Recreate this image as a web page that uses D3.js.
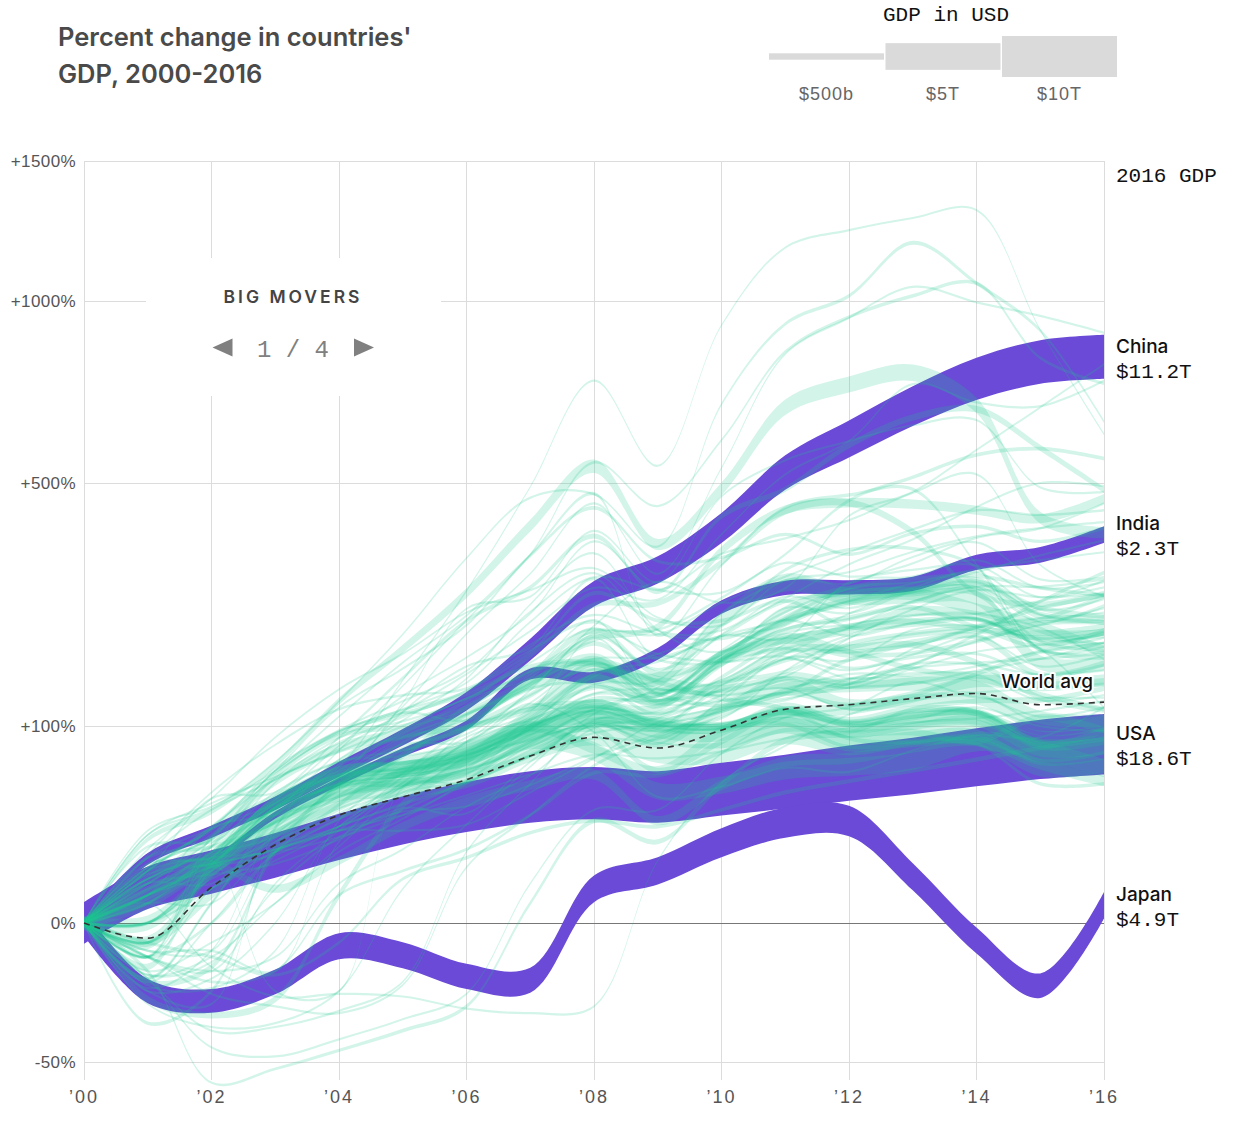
<!DOCTYPE html>
<html><head><meta charset="utf-8">
<script src="https://cdn.jsdelivr.net/npm/d3@7"></script>
<style>
body{margin:0;background:#fff;}
svg{display:block;}
</style></head><body>
<svg id="chart" width="1240" height="1132"></svg>
<script>
// ---------- DATA ----------
const years = [2000,2001,2002,2003,2004,2005,2006,2007,2008,2009,2010,2011,2012,2013,2014,2015,2016];
const xTickYears = [2000,2002,2004,2006,2008,2010,2012,2014,2016];
const xTickLabels = ["\u201900","\u201902","\u201904","\u201906","\u201908","\u201910","\u201912","\u201914","\u201916"];
const yTickValues = [1500,1000,500,100,0,-50];
const yTickLabels = ["+1500%","+1000%","+500%","+100%","0%","-50%"];

const legendValues = [500,5000,10000]; // $B
const legendLabels = ["$500b","$5T","$10T"];

// Highlighted "big movers" (percent change vs 2000), GDP in 2000 in $B
const moverNames = ["USA","China","Japan","India"];
const moverValueLabels = ["$18.6T","$11.2T","$4.9T","$2.3T"];
const moverGdp2000 = [10250,1211,4888,468];
const moverChanges = [
  [0,3.2,6.7,11.8,19.1,27.2,34.7,41,43.5,41,46.2,51.6,58,63.7,70.9,77.8,82.5],
  [0,10.6,21.5,37,61,89,127,193,280,322,403,524,605,690,765,813,828],
  [0,-12,-15.7,-9,-1.4,-2.7,-7.4,-8.5,3,7,16.6,26,26.8,5.5,-0.8,-10.2,0.8],
  [0,3.6,10,30,51.5,75,101,160,156,187,258,290,291,297,336,350,390]
];

const worldAvg = [0,-0.6,3.3,15.8,30,41,53,72,89,79,96,118,123,130,136,123,126];

// Other countries
const countryNames = ["Germany","United Kingdom","France","Italy","Brazil","Canada","Russia","South Korea","Australia","Mexico",
 "Spain","Indonesia","Turkey","Netherlands","Saudi Arabia","Switzerland","Argentina","Sweden","Poland","Belgium",
 "Norway","Austria","Iran","Nigeria","UAE","Thailand","Egypt","South Africa","Israel","Hong Kong",
 "Singapore","Malaysia","Philippines","Colombia","Chile","Pakistan","Bangladesh","Vietnam","Peru","Czech Republic",
 "Romania","Hungary","Greece","Portugal","Ireland","Denmark","Finland","New Zealand","Kuwait","Algeria",
 "Morocco","Kazakhstan","Azerbaijan","Qatar","Ukraine","Ecuador","Ethiopia","Ghana","Mongolia","Belarus",
 "Uzbekistan","Kenya","Sri Lanka","Dominican Republic","Uruguay","Paraguay","Bolivia","Costa Rica","Guatemala","Tunisia",
 "Jordan","Lebanon","Oman","Croatia","Slovakia","Slovenia","Bulgaria","Lithuania","Latvia","Estonia",
 "Cameroon","Cote d'Ivoire","Zambia","Zimbabwe","Mozambique","Tanzania","Uganda","Panama","Luxembourg","Iceland",
 "El Salvador","Honduras","Trinidad and Tobago"];
const countryGdp2000 = [1950,1658,1362,1142,655,742,260,562,415,708,
 598,165,273,418,190,272,284,262,172,236,
 171,197,110,69,104,126,100,136,132,172,
 96,94,81,100,78,74,53,31,52,62,
 37,47,130,118,100,164,125,52,38,55,
 39,18,5.3,17.8,31,18,8.2,5,1.1,12.7,
 13.8,12.7,16.3,24,22.8,8.8,8.4,15,19.3,21.5,
 8.5,17.3,19.9,21.8,29,20.3,13.2,11.5,7.9,5.7,
 10,10.7,3.6,6.7,5,13.4,6.2,11.6,21,9,
 11.8,7.1,8.2];
const countryChanges = [
 [0,0,7,28,44,47,54,76,92,75,75,93,82,92,99,73,78],
 [0,-1,7,24,46,53,64,87,76,45,49,60,63,68,85,77,62],
 [0,1,10,35,55,61,70,95,114,97,94,110,97,106,109,79,81],
 [0,2,11,37,58,62,70,94,109,91,86,101,83,87,89,61,64],
 [0,-15,-22,-15,2,36,69,113,159,154,237,299,276,278,275,175,174],
 [0,-1,2,20,38,58,77,97,109,85,118,141,146,148,143,109,106],
 [0,18,32,65,127,194,281,408,539,370,487,687,749,782,692,424,393],
 [0,-5,8,21,36,60,80,100,78,60,95,114,118,132,151,146,152],
 [0,-9,-5,13,48,67,80,106,154,124,176,236,273,280,254,226,191],
 [0,7,9,3,10,24,38,49,57,27,49,67,70,80,86,65,52],
 [0,5,19,52,79,93,112,147,172,150,139,149,123,128,130,100,106],
 [0,-3,19,42,56,73,121,162,209,227,358,441,456,453,440,422,465],
 [0,-26,-12,15,49,85,104,149,182,138,185,207,222,251,244,216,216],
 [0,3,12,39,57,64,76,103,124,105,100,114,98,107,111,81,86],
 [0,-3,0,13,36,73,98,119,174,126,178,253,287,293,298,244,239],
 [0,2,10,27,43,50,57,73,104,105,119,157,146,151,159,146,150],
 [0,-6,-66,-55,-42,-30,-18,1,27,17,49,86,92,94,85,109,96],
 [0,-8,1,27,48,50,60,83,97,60,85,117,106,118,114,82,96],
 [0,11,15,26,49,77,99,157,221,160,181,206,186,203,212,159,174],
 [0,0,8,34,55,61,71,97,119,102,100,118,102,111,114,88,96],
 [0,1,13,34,51,78,99,134,180,127,150,192,196,200,175,131,117],
 [0,1,9,34,54,60,70,98,118,99,96,115,102,111,114,93,98],
 [0,15,17,37,64,93,127,184,261,264,336,438,456,395,281,262,280],
 [0,7,40,44,89,155,236,291,387,283,427,486,589,660,682,583,484],
 [0,0,6,19,42,71,112,147,202,152,188,237,264,285,300,256,243],
 [0,-9,0,13,28,50,76,112,156,134,179,196,227,235,223,217,227],
 [0,-3,-13,-18,-21,-10,8,30,64,89,119,136,179,188,205,232,233],
 [0,-12,-17,23,68,89,99,118,121,118,175,213,190,167,154,135,118],
 [0,-3,-9,-6,2,7,14,30,58,56,75,96,94,118,127,128,142],
 [0,-1,-3,-7,-1,5,11,21,27,24,33,44,52,60,69,79,87],
 [0,-7,-4,3,19,33,53,87,100,98,144,178,196,214,220,210,221],
 [0,-1,7,17,33,53,67,98,145,113,156,207,224,236,238,208,217],
 [0,-6,-1,1,13,28,52,85,113,110,148,163,201,217,228,238,276],
 [0,-2,-2,-6,17,46,62,107,143,133,187,235,270,280,280,193,182],
 [0,-10,-11,-2,27,58,97,121,126,122,180,222,241,257,226,197,221],
 [0,-2,-2,13,31,48,84,107,128,128,140,189,190,200,226,256,277],
 [0,0,3,13,22,32,35,49,71,92,115,138,148,172,215,267,317],
 [0,5,13,26,45,84,112,150,216,222,273,351,461,513,566,581,557],
 [0,0,5,13,28,42,71,97,135,133,187,240,290,306,311,290,277],
 [0,11,33,53,84,110,139,189,281,236,236,268,226,229,238,203,216],
 [0,9,22,60,120,167,229,348,445,338,345,390,351,392,406,376,403],
 [0,12,44,82,118,134,142,192,234,179,175,195,168,182,187,159,172],
 [0,4,16,55,90,100,120,165,173,150,130,118,88,84,83,50,50],
 [0,3,13,40,62,66,73,100,122,105,100,102,80,85,87,68,75],
 [0,7,24,59,94,113,135,170,174,135,122,136,123,134,160,190,199],
 [0,-1,7,30,48,57,68,90,115,96,96,107,95,102,104,84,90],
 [0,2,9,31,50,56,64,92,127,101,99,123,105,116,115,86,91],
 [0,-3,10,51,88,114,106,142,148,127,178,223,238,266,291,235,260],
 [0,-8,1,30,55,115,170,196,306,182,229,322,360,362,327,194,190],
 [0,-1,3,23,55,89,113,144,213,166,213,267,278,282,290,205,192],
 [0,2,10,34,52,59,75,101,136,141,138,156,147,173,173,159,165],
 [0,20,34,67,127,215,344,467,475,366,695,927,1016,1195,1058,907,650],
 [0,8,18,36,63,152,285,491,760,540,923,1178,1240,1284,1313,909,618],
 [0,0,9,32,77,145,237,351,548,449,602,843,949,1016,1057,825,752],
 [0,22,35,60,110,175,244,350,476,213,330,445,473,486,332,192,197],
 [0,20,37,55,76,100,130,155,220,215,265,310,355,400,440,430,440],
 [0,-3,-6,4,22,51,85,140,228,300,265,289,428,480,578,687,806],
 [0,7,24,53,78,115,160,220,290,270,390,520,600,750,700,690,760],
 [0,11,23,37,65,121,216,315,455,315,535,836,946,1045,995,952,900],
 [0,-3,15,39,81,133,182,247,376,288,352,382,419,478,520,331,276],
 [0,-17,-28,-26,-12,3,25,63,113,143,215,272,332,380,447,500,493],
 [0,1,1,17,29,48,97,148,180,182,211,230,297,334,383,402,455],
 [0,-3,3,15,24,48,73,97,147,152,247,303,318,356,386,403,415],
 [0,5,10,-12,-12,47,51,72,88,87,117,130,143,148,164,180,203],
 [0,-8,-40,-46,-35,-24,-13,4,33,33,74,109,120,150,131,131,131],
 [0,-8,-30,-28,-20,-9,13,50,102,83,128,181,178,222,228,208,202],
 [0,-3,-6,-3,4,14,35,56,98,108,134,187,225,267,292,292,305],
 [0,7,11,13,19,30,50,77,100,100,146,180,214,243,247,268,291],
 [0,2,23,30,41,57,73,86,103,95,110,142,154,174,205,229,256],
 [0,2,7,30,50,55,61,80,108,101,103,113,102,107,120,100,95],
 [0,5,12,19,34,48,75,105,157,187,213,237,268,298,323,340,355],
 [0,2,8,14,22,22,25,44,70,104,119,128,153,168,175,180,187],
 [0,-1,3,10,24,55,89,115,210,136,192,250,288,300,307,246,232],
 [0,7,23,58,92,105,130,175,223,187,176,183,155,161,159,128,134],
 [0,4,18,60,95,117,139,200,245,216,208,237,213,232,240,200,210],
 [0,2,15,44,67,72,85,125,174,142,134,142,118,128,133,110,120],
 [0,8,19,57,94,118,149,234,309,286,282,335,310,322,330,274,303],
 [0,8,23,62,96,127,164,250,316,221,221,275,256,290,317,254,271],
 [0,4,15,34,69,106,154,262,353,222,190,256,248,283,300,245,249],
 [0,14,40,89,141,187,249,286,325,241,229,303,298,346,374,305,309],
 [0,2,11,37,57,61,70,95,131,123,128,152,143,167,190,200,215],
 [0,1,11,34,48,53,60,84,117,113,127,137,147,194,225,240,236],
 [0,4,4,20,51,125,255,275,397,300,470,553,600,640,653,490,480],
 [0,1,-5,-14,-13,-14,-19,-21,-18,10,51,81,112,131,137,143,148],
 [0,-12,-8,0,24,44,52,72,104,100,108,164,210,232,238,194,120],
 [0,4,6,9,18,34,31,67,106,115,140,157,209,254,286,274,280],
 [0,-7,-3,1,15,44,57,101,161,176,213,210,300,310,340,290,300],
 [0,3,8,12,24,36,51,82,118,138,152,201,247,286,318,349,378],
 [0,0,10,42,67,77,92,134,166,140,150,180,165,186,212,170,186],
 [0,-11,-2,24,54,82,85,124,94,41,48,62,59,77,91,89,120],
 [0,5,9,14,22,30,42,57,73,70,76,88,98,104,108,116,127],
 [0,6,9,14,24,37,51,73,93,102,115,140,160,158,170,190,203],
 [0,9,11,35,60,96,131,163,237,137,171,217,230,245,247,225,180]
];

// ---------- CHART ----------
const svg = d3.select("#chart");
const PURPLE = "#6a4ad6";
const GREEN = "#1fc98f";
const CURVE = d3.curveCatmullRom.alpha(0.5);

const x = d3.scaleLinear().domain([2000,2016]).range([84,1104]);
const y = d3.scaleSqrt().domain([-50,1500]).range([1062,161]);
const w = d3.scalePow().exponent(0.62).domain([0,10000]).range([0,41]);

// Title
const title = svg.append("text")
  .attr("font-family","Inter, Lato, sans-serif").attr("font-weight",600)
  .attr("font-size",25.5).attr("fill","#4a4a4a");
title.append("tspan").attr("x",58).attr("y",46).text("Percent change in countries'");
title.append("tspan").attr("x",58).attr("y",83).text("GDP, 2000-2016");

// Legend
svg.append("text").attr("x",946).attr("y",21).attr("text-anchor","middle")
  .attr("font-family","'Liberation Mono', 'DejaVu Sans Mono', monospace").attr("font-size",21)
  .attr("fill","#111").text("GDP in USD");
const lg = svg.append("g");
lg.selectAll("rect").data(legendValues).join("rect")
  .attr("x",(d,i)=>769 + i*116.5).attr("width",115)
  .attr("y",d=>56.5 - w(d)/2).attr("height",d=>w(d))
  .attr("fill","#dadada");
lg.selectAll("text").data(legendLabels).join("text")
  .attr("x",(d,i)=>826.5 + i*116.5).attr("y",100).attr("text-anchor","middle")
  .attr("font-family","'Liberation Sans', Arial, sans-serif").attr("font-size",18)
  .attr("letter-spacing",1).attr("fill","#666").text(d=>d);

// Grid
const grid = svg.append("g");
grid.selectAll("line.vg").data(xTickYears).join("line").attr("class","vg")
  .attr("x1",d=>x(d)).attr("x2",d=>x(d)).attr("y1",y(1500)).attr("y2",1080)
  .attr("stroke","#dcdcdc").attr("stroke-width",1).attr("shape-rendering","crispEdges");
grid.selectAll("line.hg").data(yTickValues).join("line").attr("class","hg")
  .attr("x1",x(2000)).attr("x2",x(2016)).attr("y1",d=>Math.round(y(d))+0.5).attr("y2",d=>Math.round(y(d))+0.5)
  .attr("stroke",d=>d===0?"#777":"#dcdcdc").attr("stroke-width",1);

// Y labels
svg.append("g").selectAll("text").data(yTickValues).join("text")
  .attr("x",76).attr("y",d=>y(d)+6).attr("text-anchor","end")
  .attr("font-family","'Liberation Sans', Arial, sans-serif").attr("font-size",17)
  .attr("letter-spacing",0.4).attr("fill","#555")
  .text((d,i)=>yTickLabels[i]);

// X labels
svg.append("g").selectAll("text").data(xTickYears).join("text")
  .attr("x",d=>x(d)).attr("y",1103).attr("text-anchor","middle")
  .attr("font-family","'Liberation Sans', Arial, sans-serif").attr("font-size",18)
  .attr("letter-spacing",2).attr("fill","#555")
  .text((d,i)=>xTickLabels[i]);

// Big movers box
svg.append("rect").attr("x",146).attr("y",258).attr("width",295).attr("height",138).attr("fill","#fff");
svg.append("text").attr("x",293).attr("y",303).attr("text-anchor","middle")
  .attr("font-family","Inter, Lato, sans-serif").attr("font-weight",600).attr("font-size",17.5)
  .attr("letter-spacing",3).attr("fill","#444").text("BIG MOVERS");
svg.append("text").attr("x",293).attr("y",357).attr("text-anchor","middle")
  .attr("font-family","'Liberation Mono', 'DejaVu Sans Mono', monospace").attr("font-size",24)
  .attr("fill","#808080").text("1 / 4");
svg.append("path").attr("d","M212.5,347.5 L232.5,338.5 L232.5,356.5 Z").attr("fill","#808080");
svg.append("path").attr("d","M374,347.5 L354,338.5 L354,356.5 Z").attr("fill","#808080");

// Band generator
function bandPath(vals, g0, minW){
  const half = d => Math.max(minW, w(g0*(1+d/100)))/2;
  return d3.area()
    .x((d,i)=>x(years[i]))
    .y0(d=>y(d)-half(d))
    .y1(d=>y(d)+half(d))
    .curve(CURVE)(vals);
}

// Purple bands
svg.append("g").selectAll("path").data(moverNames).join("path")
  .attr("d",(d,i)=>bandPath(moverChanges[i], moverGdp2000[i], 2))
  .attr("fill",PURPLE);

// Green countries sorted by 2016 GDP descending
const order = countryNames.map((n,i)=>i)
  .sort((a,b)=> countryGdp2000[b]*(1+countryChanges[b][16]/100) - countryGdp2000[a]*(1+countryChanges[a][16]/100));
svg.append("g").selectAll("path").data(order).join("path")
  .attr("d",i=>bandPath(countryChanges[i], countryGdp2000[i], 2.2))
  .attr("fill",GREEN).attr("fill-opacity",0.2);

// World average
svg.append("path")
  .attr("d", d3.line().x((d,i)=>x(years[i])).y(d=>y(d)).curve(d3.curveMonotoneX)(worldAvg))
  .attr("fill","none").attr("stroke","#333").attr("stroke-width",1.6).attr("stroke-dasharray","6,5");
svg.append("text").attr("x",x(2016)-11).attr("y",y(worldAvg[16])-14).attr("text-anchor","end")
  .attr("font-family","Inter, Lato, sans-serif").attr("font-weight",500).attr("font-size",19)
  .attr("fill","#111").attr("stroke","#fff").attr("stroke-width",4).attr("paint-order","stroke")
  .attr("stroke-linejoin","round").text("World avg");

// Right labels
svg.append("text").attr("x",1116).attr("y",182)
  .attr("font-family","'Liberation Mono', 'DejaVu Sans Mono', monospace").attr("font-size",21)
  .attr("fill","#111").text("2016 GDP");
const rl = svg.append("g");
rl.selectAll("text.nm").data(moverNames).join("text").attr("class","nm")
  .attr("x",1116).attr("y",(d,i)=>y(moverChanges[i][16])-4)
  .attr("font-family","Inter, Lato, sans-serif").attr("font-weight",500).attr("font-size",19)
  .attr("fill","#111").text(d=>d);
rl.selectAll("text.vl").data(moverValueLabels).join("text").attr("class","vl")
  .attr("x",1116).attr("y",(d,i)=>y(moverChanges[i][16])+21)
  .attr("font-family","'Liberation Mono', 'DejaVu Sans Mono', monospace").attr("font-size",21)
  .attr("fill","#111").text(d=>d);
</script>
</body></html>
